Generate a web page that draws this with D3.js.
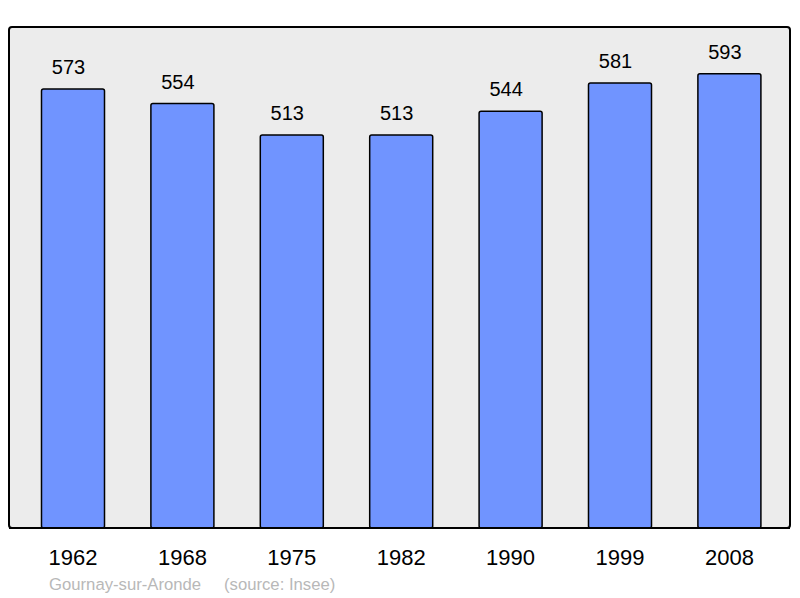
<!DOCTYPE html>
<meta charset="utf-8">
<style>
body { margin: 0; background: #fff; }
text { font-family: "Liberation Sans", Arial, sans-serif; }
</style>
<body>
<script src="https://d3js.org/d3.v7.min.js"></script>
<script>
const years = ["1962", "1968", "1975", "1982", "1990", "1999", "2008"];
const population = [573, 554, 513, 513, 544, 581, 593];
const place = "Gournay-sur-Aronde";
const source = "(source: Insee)";

const width = 800, height = 598;
const svg = d3.select("body").append("svg")
  .attr("width", width)
  .attr("height", height);

// panel
svg.append("rect")
  .attr("x", 9).attr("y", 27)
  .attr("width", 781).attr("height", 501)
  .attr("rx", 3)
  .attr("fill", "#ececec")
  .attr("stroke", "#000")
  .attr("stroke-width", 2);

const x = d3.scaleBand()
  .domain(years)
  .range([18.3, 784.1])
  .paddingInner(0.424)
  .paddingOuter(0.212);

const y = d3.scaleLinear()
  .domain([0, 654])
  .range([528, 27]);

const g = svg.append("g");

g.selectAll("rect.bar")
  .data(years)
  .enter().append("rect")
  .attr("class", "bar")
  .attr("x", d => x(d))
  .attr("y", (d, i) => y(population[i]))
  .attr("width", x.bandwidth())
  .attr("height", (d, i) => y(0) - y(population[i]))
  .attr("rx", 2)
  .attr("fill", "#7094ff")
  .attr("stroke", "#000")
  .attr("stroke-width", 1.5);

// value labels sit a little left of the bar centre
g.selectAll("text.val")
  .data(years)
  .enter().append("text")
  .attr("class", "val")
  .attr("x", d => x(d) + x.bandwidth() / 2 - 4.5)
  .attr("y", (d, i) => y(population[i]) - 15)
  .attr("text-anchor", "middle")
  .attr("font-size", 20)
  .attr("fill", "#000")
  .text((d, i) => population[i]);

svg.append("line")
  .attr("x1", 9).attr("x2", 790)
  .attr("y1", 528).attr("y2", 528)
  .attr("stroke", "#000")
  .attr("stroke-width", 2);

svg.selectAll("text.year")
  .data(years)
  .enter().append("text")
  .attr("class", "year")
  .attr("x", d => x(d) + x.bandwidth() / 2)
  .attr("y", 565)
  .attr("text-anchor", "middle")
  .attr("font-size", 22)
  .attr("fill", "#000")
  .text(d => d);

svg.append("text")
  .attr("x", 49).attr("y", 590)
  .attr("font-size", 16.7)
  .attr("fill", "#b8b8b8")
  .text(place);

svg.append("text")
  .attr("x", 224).attr("y", 590)
  .attr("font-size", 16.7)
  .attr("fill", "#b8b8b8")
  .text(source);
</script>
</body>
